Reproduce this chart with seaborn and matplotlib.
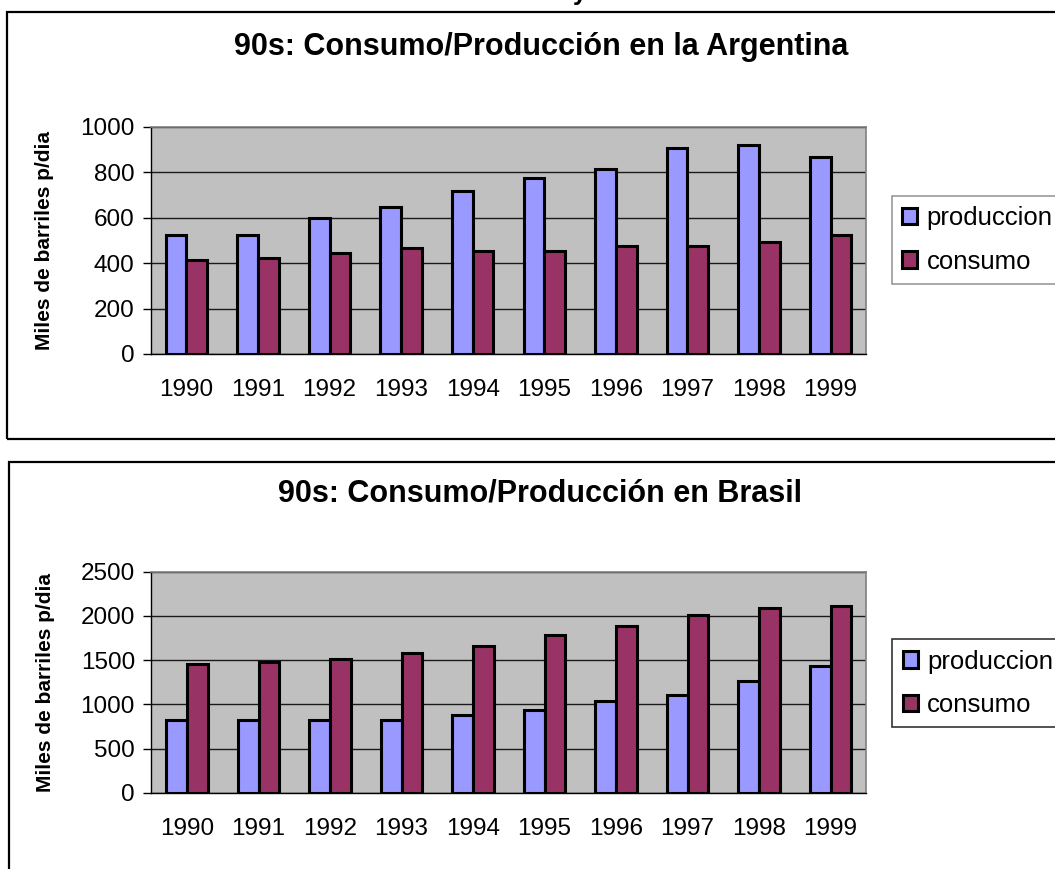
#!/usr/bin/env python3
import matplotlib

matplotlib.use("Agg")

import matplotlib.pyplot as plt
import matplotlib.patches as mpatches
import pandas as pd
import seaborn as sns

# data
years = ["1990", "1991", "1992", "1993", "1994", "1995", "1996", "1997", "1998", "1999"]
series_names = ["produccion", "consumo"]

arg_produccion = [525, 525, 598, 648, 716, 775, 815, 905, 920, 867]
arg_consumo = [412, 422, 443, 465, 452, 452, 474, 474, 494, 524]

bra_produccion = [826, 826, 826, 826, 875, 932, 1034, 1105, 1260, 1437]
bra_consumo = [1456, 1475, 1509, 1584, 1663, 1784, 1882, 2010, 2089, 2112]

titles = ["90s: Consumo/Producción en la Argentina", "90s: Consumo/Producción en Brasil"]
ylabel = "Miles de barriles p/dia"
arg_yticks = [0, 200, 400, 600, 800, 1000]
bra_yticks = [0, 500, 1000, 1500, 2000, 2500]

colors = ["#9999FF", "#993366"]

sns.set_style("white")
plt.rcParams["font.family"] = ["Liberation Sans", "DejaVu Sans"]
plt.rcParams["text.color"] = "black"
plt.rcParams["axes.labelcolor"] = "black"
plt.rcParams["xtick.color"] = "black"
plt.rcParams["ytick.color"] = "black"

W, H = 1055, 869


def long_table(prod, cons):
    return pd.DataFrame({
        "anio": years * 2,
        "serie": [series_names[0]] * len(years) + [series_names[1]] * len(years),
        "valor": prod + cons,
    })


def draw_panel(fig, rect, df, yticks, legend_xy, legend_edge):
    ax = fig.add_axes(rect)
    sns.barplot(data=df, x="anio", y="valor", hue="serie", palette=colors,
                saturation=1, width=0.58, edgecolor="black", linewidth=2.2, ax=ax)
    ax.set_facecolor("#C0C0C0")
    ax.set_xlim(-0.5, len(years) - 0.5)
    ax.set_ylim(yticks[0], yticks[-1])
    ax.set_yticks(yticks)
    ax.set_yticklabels([str(t) for t in yticks], fontsize=17.5)
    ax.set_xticks(range(len(years)))
    ax.set_xticklabels(years, fontsize=17.5)
    ax.set_xticks([i - 0.5 for i in range(len(years) + 1)], minor=True)
    ax.tick_params(axis="x", which="major", length=0, pad=18)
    ax.tick_params(axis="x", which="minor", length=4.5, width=1, color="black", direction="out")
    ax.tick_params(axis="y", length=5.8, width=1, color="black", direction="out", pad=6, left=True)
    ax.grid(axis="y", color="#1a1a1a", linewidth=1)
    ax.set_axisbelow(True)
    ax.set_xlabel("")
    ax.set_ylabel(ylabel, fontsize=15, fontweight="bold")
    ax.yaxis.set_label_coords(-0.135, 0.5)
    for side in ["left", "bottom"]:
        ax.spines[side].set_color("black")
        ax.spines[side].set_linewidth(1)
    for side in ["top", "right"]:
        ax.spines[side].set_color("#808080")
        ax.spines[side].set_linewidth(1.2)

    handles, labels = ax.get_legend_handles_labels()
    ax.legend(handles, labels, loc="upper left", bbox_to_anchor=legend_xy,
              bbox_transform=fig.transFigure, borderaxespad=0, fontsize=18.5,
              frameon=True, fancybox=False, edgecolor=legend_edge,
              handlelength=0.6, handleheight=0.6, handletextpad=0.35,
              labelspacing=0.75, borderpad=0.4)
    ax.get_legend().get_frame().set_linewidth(1.2)
    return ax


fig = plt.figure(figsize=(W / 100, H / 100), dpi=100)
fig.patch.set_facecolor("white")

# panel frames (they run past the right and bottom edges of the picture)
fig.patches.append(mpatches.Rectangle((7.3 / W, 1 - 439 / H), 1.1, (439 - 12.3) / H,
                                      transform=fig.transFigure, fill=False,
                                      edgecolor="black", linewidth=1.6))
fig.patches.append(mpatches.Rectangle((8.5 / W, -0.1), 1.1, 0.1 + 1 - 461.7 / H,
                                      transform=fig.transFigure, fill=False,
                                      edgecolor="black", linewidth=1.6))

draw_panel(fig, [150.7 / W, 1 - 354 / H, 715.6 / W, 227.3 / H],
           long_table(arg_produccion, arg_consumo), arg_yticks,
           (891.7 / W, 1 - 196 / H), "#808080")
draw_panel(fig, [151.3 / W, 1 - 792.7 / H, 715 / W, 221 / H],
           long_table(bra_produccion, bra_consumo), bra_yticks,
           (892.3 / W, 1 - 639.3 / H), "black")

fig.text(541 / W, 1 - 47 / H, titles[0], ha="center", va="center",
         fontsize=22, fontweight="bold")
fig.text(540 / W, 1 - 493 / H, titles[1], ha="center", va="center",
         fontsize=22, fontweight="bold")

# descender of a line of text cut off above the picture
fig.text(580 / W, 1.0, "y", ha="center", va="baseline", fontsize=18, fontweight="bold")

fig.savefig("out.png", dpi=100)
